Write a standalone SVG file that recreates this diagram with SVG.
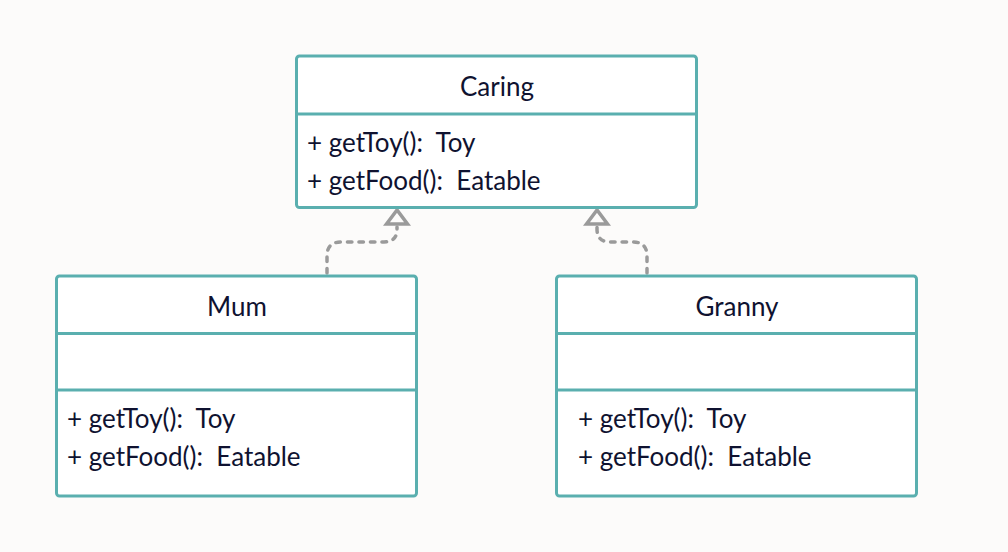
<svg xmlns="http://www.w3.org/2000/svg" width="1008" height="552" viewBox="0 0 1008 552">
<style>
.box{fill:#ffffff;stroke:#5aafaf;stroke-width:3}
.div{stroke:#5aafaf;stroke-width:3}
.t{font-family:Lato,"Liberation Sans",sans-serif;font-size:26px;fill:#0f1230;white-space:pre}
.c{text-anchor:middle}
.edge{fill:none;stroke:#9a9a9a;stroke-width:3.5;stroke-dasharray:4.5 7;stroke-linecap:round}
.tri{fill:#fcfbfa;stroke:#9a9a9a;stroke-width:3.5;stroke-linejoin:miter}
</style>
<rect width="1008" height="552" fill="#fcfbfa"/>
<g id="connectors">
<path class="edge" d="M327,273 L327,256 Q327,242 341,242 L384,242 Q397,242 397,229 L397,227"/>
<path class="edge" d="M647,273 L647,256 Q647,242 633,242 L610,242 Q597,242 597,229 L597,227"/>
<polygon class="tri" points="397,210 386.5,224 407.5,224"/>
<polygon class="tri" points="597,210 586.5,224 607.5,224"/>
</g>
<g id="caring">
<rect class="box" x="296.5" y="56" width="400" height="151.5" rx="3"/>
<line class="div" x1="296.5" y1="114" x2="696.5" y2="114"/>
<text class="t c" x="497" y="96">Caring</text>
<text class="t" x="307" y="152" xml:space="preserve">+ getToy():  Toy</text>
<text class="t" x="307" y="190" xml:space="preserve">+ getFood():  Eatable</text>
</g>
<g id="mum">
<rect class="box" x="56.5" y="276" width="360" height="220" rx="3"/>
<line class="div" x1="56.5" y1="333.5" x2="416.5" y2="333.5"/>
<line class="div" x1="56.5" y1="390" x2="416.5" y2="390"/>
<text class="t c" x="237" y="316">Mum</text>
<text class="t" x="67" y="428" xml:space="preserve">+ getToy():  Toy</text>
<text class="t" x="67" y="466" xml:space="preserve">+ getFood():  Eatable</text>
</g>
<g id="granny">
<rect class="box" x="556.5" y="276" width="360" height="220" rx="3"/>
<line class="div" x1="556.5" y1="333.5" x2="916.5" y2="333.5"/>
<line class="div" x1="556.5" y1="390" x2="916.5" y2="390"/>
<text class="t c" x="737" y="316">Granny</text>
<text class="t" x="578" y="428" xml:space="preserve">+ getToy():  Toy</text>
<text class="t" x="578" y="466" xml:space="preserve">+ getFood():  Eatable</text>
</g>
</svg>
